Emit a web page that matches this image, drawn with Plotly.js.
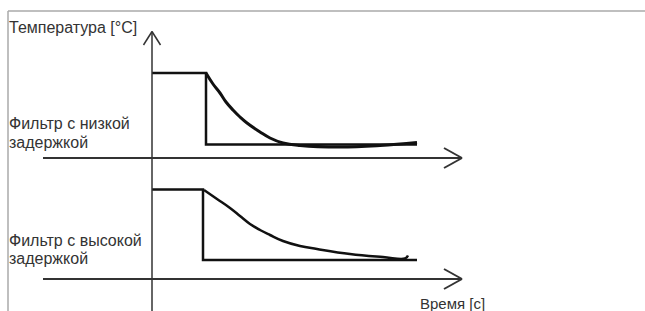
<!DOCTYPE html>
<html>
<head>
<meta charset="utf-8">
<script src="https://cdn.plot.ly/plotly-3.0.1.min.js"></script>
<style>html,body{margin:0;padding:0;background:#fff;}#chart{width:645px;height:311px;}</style>
</head>
<body>
<div id="chart"></div>
<script>
// Time axis (arbitrary units), temperature (arbitrary units)
const stepLowT   = [0, 5.4, 5.4, 26.5];
const stepLowV   = [8.5, 8.5, 1.35, 1.35];
const curveLowT  = [5.4, 6.1, 6.8, 7.4, 8.1, 8.8, 9.5, 10.8, 11.8, 13.1, 14.8, 18.8, 22.8, 26.5];
const curveLowV  = [8.5, 7.4, 6.5, 5.6, 4.8, 4.1, 3.5, 2.6, 2.0, 1.5, 1.25, 1.1, 1.25, 1.55];

const stepHighT  = [0, 5.1, 5.1, 26.5];
const stepHighV  = [8.95, 8.95, 1.9, 1.9];
const curveHighT = [5.2, 6.5, 7.8, 8.8, 9.8, 10.8, 11.8, 13.1, 14.8, 16.5, 19.8, 23.1, 25.3, 25.6];
const curveHighV = [8.9, 8.0, 7.1, 6.3, 5.5, 4.9, 4.4, 3.8, 3.3, 3.0, 2.5, 2.2, 2.05, 2.35];

const labelY      = "Температура [°C]";
const labelX      = "Время [с]";
const labelLow    = ["Фильтр с низкой", "задержкой"];
const labelHigh   = ["Фильтр с высокой", "задержкой"];

const ink = "#111";
const axisCol = "#333";

const traces = [
  {x: stepLowT, y: stepLowV, mode: "lines", line: {color: ink, width: 2.5}, yaxis: "y", hoverinfo: "skip"},
  {x: curveLowT, y: curveLowV, mode: "lines", line: {color: ink, width: 3, shape: "spline", smoothing: 1.2}, yaxis: "y", hoverinfo: "skip"},
  {x: stepHighT, y: stepHighV, mode: "lines", line: {color: ink, width: 2.5}, yaxis: "y2", hoverinfo: "skip"},
  {x: curveHighT, y: curveHighV, mode: "lines", line: {color: ink, width: 2.5, shape: "spline", smoothing: 1.2}, yaxis: "y2", hoverinfo: "skip"}
];

function seg(x0, y0, x1, y1, yref, w, c) {
  return {type: "line", xref: "x", yref: yref, x0: x0, y0: y0, x1: x1, y1: y1,
          line: {color: c || axisCol, width: w || 2}};
}

const shapes = [
  // frame
  {type: "line", xref: "paper", yref: "paper", x0: 8/645, y0: 1 - 11/311, x1: 1.01, y1: 1 - 11/311, line: {color: "#aaa", width: 1.5}},
  {type: "line", xref: "paper", yref: "paper", x0: 8/645, y0: 1 - 11/311, x1: 8/645, y1: -0.05, line: {color: "#aaa", width: 1.5}},
  // vertical axis with arrow
  seg(0, -15.5, 0, 12.65, "y", 1.5),
  seg(-0.85, 11.3, 0, 12.65, "y", 1.5),
  seg(0.85, 11.3, 0, 12.65, "y", 1.5),
  // upper time axis
  seg(-10.9, 0, 31.0, 0, "y", 2),
  seg(29.2, 1.0, 31.0, 0, "y", 2),
  seg(29.2, -1.0, 31.0, 0, "y", 2),
  // lower time axis
  seg(-10.9, 0, 31.0, 0, "y2", 2),
  seg(29.2, 1.0, 31.0, 0, "y2", 2),
  seg(29.2, -1.0, 31.0, 0, "y2", 2)
];

const font = {family: "Liberation Sans, Arial, sans-serif", size: 16, color: "#333"};

function label(text, x, y, yref, sz) {
  return {text: text, x: x, y: y, xref: "x", yref: yref, xanchor: "left", yanchor: "middle",
          showarrow: false, font: Object.assign({}, font, sz ? {size: sz} : {})};
}

const annotations = [
  label(labelY, -14.5, 13.1, "y"),
  label(labelLow[0], -14.5, 3.5, "y"),
  label(labelLow[1], -14.5, 1.6, "y"),
  label(labelHigh[0], -14.5, 3.9, "y2"),
  label(labelHigh[1], -14.5, 2.1, "y2"),
  label(labelX, 26.6, -2.4, "y2", 15)
];

const layout = {
  width: 645, height: 311,
  margin: {l: 0, r: 0, t: 0, b: 0, pad: 0},
  paper_bgcolor: "#fff", plot_bgcolor: "#fff",
  showlegend: false,
  xaxis: {range: [-15.2, 49.3], visible: false, fixedrange: true},
  yaxis: {range: [-15.3, 15.8], visible: false, fixedrange: true},
  yaxis2: {range: [-3.2, 27.9], visible: false, overlaying: "y", fixedrange: true},
  shapes: shapes,
  annotations: annotations
};

Plotly.newPlot("chart", traces, layout, {staticPlot: true, displayModeBar: false});
</script>
</body>
</html>
